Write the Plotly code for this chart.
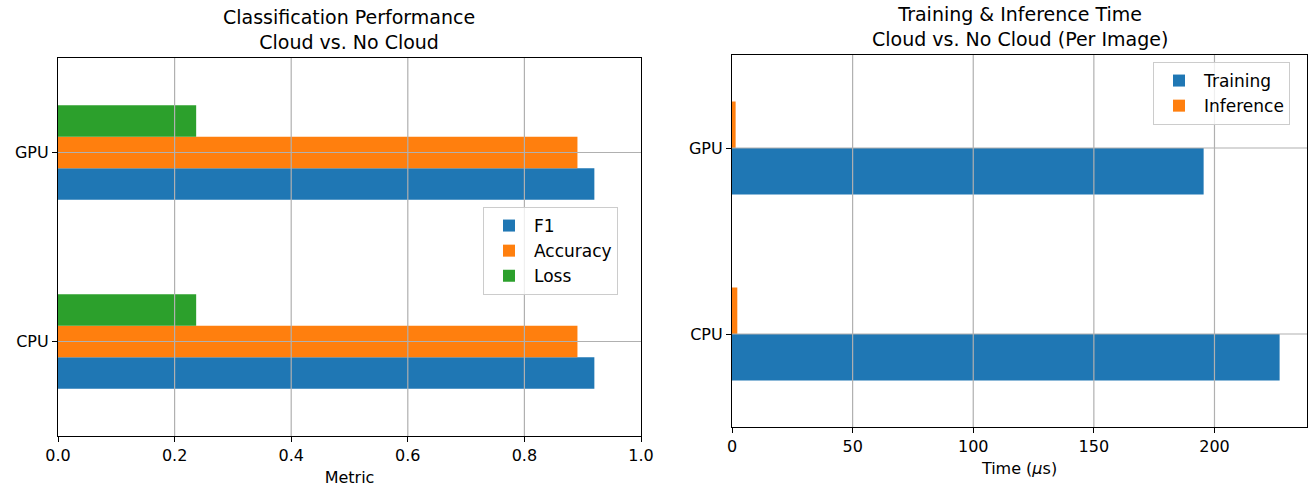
import plotly.graph_objects as go

# ---- data ----
devices = ["CPU", "GPU"]

f1_score = [0.920, 0.920]
accuracy = [0.891, 0.891]
loss = [0.237, 0.237]

training_time_us = [227.0, 195.5]
inference_time_us = [2.2, 1.5]

metric_ticks = [0.0, 0.2, 0.4, 0.6, 0.8, 1.0]
time_ticks = [0, 50, 100, 150, 200]

# ---- styling ----
BLUE, ORANGE, GREEN = "#1f77b4", "#ff7f0e", "#2ca02c"
GRID = "#b0b0b0"
FONT = "DejaVu Sans"
TXT = 16
LEG = 17
TITLE = 19
W, H = 1311, 488


def px_x(p):
    return p / W


def px_y(p):
    return 1 - p / H


left_dom_x = [px_x(58), px_x(641)]
left_dom_y = [px_y(436), px_y(58)]
right_dom_x = [px_x(732), px_x(1307)]
right_dom_y = [px_y(427), px_y(55)]

fig = go.Figure()

# left panel: classification metrics
for name, vals, col in [("F1", f1_score, BLUE), ("Accuracy", accuracy, ORANGE), ("Loss", loss, GREEN)]:
    fig.add_trace(go.Bar(
        x=vals, y=devices, orientation="h", name=name,
        marker=dict(color=col, line=dict(width=0)),
        xaxis="x", yaxis="y", legend="legend",
    ))

# right panel: timing per image
for name, vals, col in [("Training", training_time_us, BLUE), ("Inference", inference_time_us, ORANGE)]:
    fig.add_trace(go.Bar(
        x=vals, y=devices, orientation="h", name=name,
        marker=dict(color=col, line=dict(width=0)),
        xaxis="x2", yaxis="y2", legend="legend2",
    ))

time_max = max(training_time_us + inference_time_us) * 1.05

axis_common = dict(
    showline=True, mirror=True, linecolor="black", linewidth=1.2,
    ticks="outside", ticklen=5, tickwidth=1.2, tickcolor="black",
    showgrid=False, zeroline=False, automargin=False,
    tickfont=dict(family=FONT, size=TXT, color="black"),
)

legend_common = dict(
    xanchor="left", yanchor="top",
    bgcolor="rgba(255,255,255,0.8)", bordercolor="#cccccc", borderwidth=1,
    font=dict(family=FONT, size=LEG, color="black"),
    traceorder="normal", itemwidth=40, tracegroupgap=0,
)

fig.update_layout(
    width=W, height=H,
    margin=dict(l=0, r=0, t=0, b=0),
    paper_bgcolor="white", plot_bgcolor="white",
    barmode="group", bargap=0.5, bargroupgap=0,
    font=dict(family=FONT, size=TXT, color="black"),
    xaxis=dict(domain=left_dom_x, anchor="y", range=[0, 1],
               tickvals=metric_ticks, tickformat=".1f",
               title=dict(text="Metric", standoff=7,
                          font=dict(family=FONT, size=TXT, color="black")),
               **axis_common),
    yaxis=dict(domain=left_dom_y, anchor="x", type="category",
               categoryorder="array", categoryarray=devices,
               range=[-0.5, 1.5], **axis_common),
    xaxis2=dict(domain=right_dom_x, anchor="y2", range=[0, time_max],
                tickvals=time_ticks,
                title=dict(text="Time (<i>μ</i>s)", standoff=7,
                           font=dict(family=FONT, size=TXT, color="black")),
                **axis_common),
    yaxis2=dict(domain=right_dom_y, anchor="x2", type="category",
                categoryorder="array", categoryarray=devices,
                range=[-0.5, 1.5], **axis_common),
    legend=dict(x=px_x(483), y=px_y(207), **legend_common),
    legend2=dict(x=px_x(1153), y=px_y(62), **legend_common),
    showlegend=True,
)

# grid lines drawn over the bars
shapes = []
for v in metric_ticks[1:-1]:
    shapes.append(dict(type="line", xref="x", yref="y domain", x0=v, x1=v, y0=0, y1=1,
                       line=dict(color=GRID, width=1.2), layer="above"))
for v in time_ticks[1:]:
    shapes.append(dict(type="line", xref="x2", yref="y2 domain", x0=v, x1=v, y0=0, y1=1,
                       line=dict(color=GRID, width=1.2), layer="above"))
for i, _ in enumerate(devices):
    shapes.append(dict(type="line", xref="x domain", yref="y", x0=0, x1=1, y0=i, y1=i,
                       line=dict(color=GRID, width=1.2), layer="above"))
    shapes.append(dict(type="line", xref="x2 domain", yref="y2", x0=0, x1=1, y0=i, y1=i,
                       line=dict(color=GRID, width=1.2), layer="above"))
fig.update_layout(shapes=shapes)

# subplot titles
fig.add_annotation(text="Classification Performance<br>Cloud vs. No Cloud",
                   xref="paper", yref="paper",
                   x=sum(left_dom_x) / 2, y=left_dom_y[1], yshift=3,
                   xanchor="center", yanchor="bottom", showarrow=False,
                   font=dict(family=FONT, size=TITLE, color="black"))
fig.add_annotation(text="Training & Inference Time<br>Cloud vs. No Cloud (Per Image)",
                   xref="paper", yref="paper",
                   x=sum(right_dom_x) / 2, y=right_dom_y[1], yshift=3,
                   xanchor="center", yanchor="bottom", showarrow=False,
                   font=dict(family=FONT, size=TITLE, color="black"))

fig.write_html("out.html")
